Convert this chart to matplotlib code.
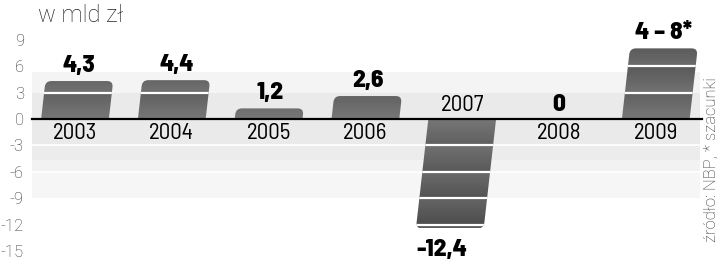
import numpy as np
import matplotlib
matplotlib.use("Agg")
import matplotlib.pyplot as plt
from matplotlib.path import Path
from matplotlib.patches import PathPatch

years = ["2003", "2004", "2005", "2006", "2007", "2008", "2009"]
values = [4.3, 4.4, 1.2, 2.6, -12.4, 0.0, 8.0]
value_labels = ["4,3", "4,4", "1,2", "2,6", "-12,4", "0", "4 – 8*"]
yticks = [9, 6, 3, 0, -3, -6, -9, -12, -15]
unit_label = "w mld zł"
source_label = "źródło: NBP, * szacunki"

W, H = 720, 271
fig = plt.figure(figsize=(W / 100, H / 100), dpi=100)
px_x = 96.8   # pixels per category
px_y = 8.83   # pixels per value unit
zero_px_y = 119
left_px, right_px = 32, 700
x0_px = 75
ax = fig.add_axes([left_px / W, 0, (right_px - left_px) / W, 1])
XL = ((left_px - x0_px) / px_x, (right_px - x0_px) / px_x)
YL = (-(H - zero_px_y) / px_y, zero_px_y / px_y)
ax.set_xlim(*XL)
ax.set_ylim(*YL)
ax.axis("off")

# background bands
bands = [(0, 3, "#eaeaea"), (3, 5.3, "#f4f4f4"), (-3, 0, "#eaeaea"),
         (-4.6, -3, "#ececec"), (-6, -4.6, "#f2f2f2"), (-9, -6, "#f6f6f6")]
for lo, hi, c in bands:
    ax.axhspan(lo, hi, color=c, zorder=0, lw=0)
for yv in [-3, -6]:
    ax.axhline(yv, color="white", lw=1.2, zorder=0.5)

slant = 1.0 / px_x   # x shift per value unit (1 px)
bw = 0.70
r = 6.0
rx, ry = r / px_x, r / px_y

def bar_path(i, v):
    s = np.sign(v)
    h = v
    def xs(y):
        return i + slant * y
    L0, R0 = xs(0) - bw / 2, xs(0) + bw / 2
    Lt, Rt = xs(h) - bw / 2, xs(h) + bw / 2
    verts = [(L0, 0), (R0, 0),
             (Rt - slant * s * ry, h - s * ry), (Rt, h), (Rt - rx, h),
             (Lt + rx, h), (Lt, h), (Lt - slant * s * ry, h - s * ry),
             (L0, 0)]
    codes = [Path.MOVETO, Path.LINETO, Path.LINETO, Path.CURVE3, Path.CURVE3,
             Path.LINETO, Path.CURVE3, Path.CURVE3, Path.CLOSEPOLY]
    return Path(verts, codes)

for i, v in enumerate(values):
    if v == 0:
        continue
    patch = PathPatch(bar_path(i, v), facecolor="none", edgecolor="none", zorder=2)
    ax.add_patch(patch)
    ys = np.linspace(0, v, 300)
    a = np.abs(ys)
    frac = (a % 3) / 3
    shade = 0.47 - 0.10 * (a / 12.4) - 0.07 * frac
    img = shade[:, None] * np.ones((1, 4))
    ylo, yhi = min(0, v), max(0, v)
    xl = i - bw / 2 - 0.2
    xr = i + bw / 2 + 0.2
    if v > 0:
        img = img[::-1]
    im = ax.imshow(img, cmap="gray", vmin=0, vmax=1, aspect="auto",
                   extent=[xl, xr, ylo, yhi], zorder=2, interpolation="bilinear")
    im.set_clip_path(patch)
    k = 3
    while k < abs(v):
        ln = ax.plot([xl, xr], [np.sign(v) * k] * 2, color="white", lw=1.6, zorder=3)[0]
        ln.set_clip_path(patch)
        k += 3

ax.plot([XL[0], XL[1] + 0.02], [0, 0], color="black", lw=1.6, zorder=4, clip_on=False)
ax.set_xlim(*XL)
ax.set_ylim(*YL)

vfont = ["Barlow Semi Condensed", "DejaVu Sans"]
yfont = ["Barlow Semi Condensed", "DejaVu Sans"]
vsize, ysize = 18, 16.5
vweight = 800
for i, (v, lab, yr) in enumerate(zip(values, value_labels, years)):
    if v > 0:
        ax.text(i + slant * v, v + 0.5, lab, ha="center", va="bottom",
                fontsize=vsize, fontweight=vweight, family=vfont, zorder=5)
        ax.text(i, -0.5, yr, ha="center", va="top", fontsize=ysize, family=yfont, zorder=5)
    elif v < 0:
        ax.text(i + slant * v - 0.08, v - 1.2, lab, ha="center", va="top",
                fontsize=vsize, fontweight=vweight, family=vfont, zorder=5)
        ax.text(i, 0.3, yr, ha="center", va="bottom", fontsize=ysize, family=yfont, zorder=5)
    else:
        ax.text(i, 0.35, lab, ha="center", va="bottom",
                fontsize=vsize, fontweight=vweight, family=vfont, zorder=5)
        ax.text(i, -0.5, yr, ha="center", va="top", fontsize=ysize, family=yfont, zorder=5)

tfont = ["Roboto", "DejaVu Sans"]
for t in yticks:
    fig.text(24 / W, 1 - (zero_px_y - t * px_y) / H, str(t), ha="right", va="center_baseline",
             fontsize=12, color="#333333", family=tfont, fontweight="light")

fig.text(38 / W, 1 - 22 / H, unit_label, ha="left", va="baseline", fontsize=17,
         color="#222222", family=tfont, fontweight="light")
fig.text(711 / W, 1 - 160 / H, source_label, ha="center", va="center", rotation=90,
         fontsize=12, color="#333333", family=tfont, fontweight="light")

fig.savefig("out.png", dpi=100, facecolor="white")
